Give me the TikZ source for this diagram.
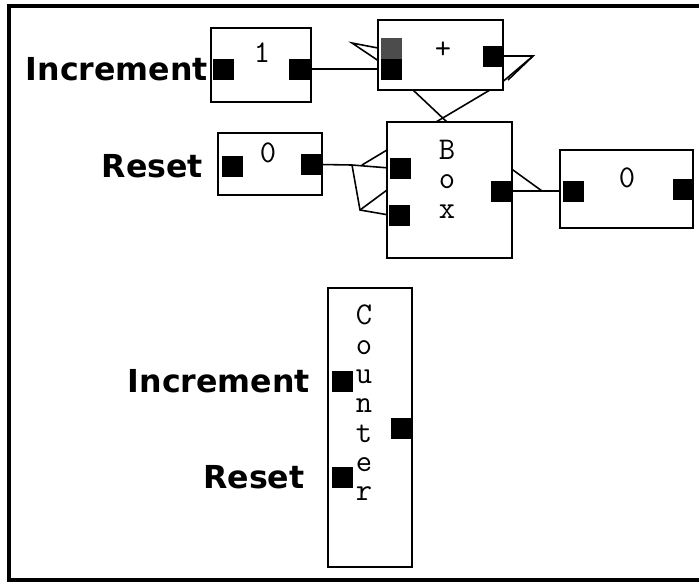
\documentclass[tikz,border=0pt]{standalone}
\usepackage{fontspec}
\usepackage{tikz}
\usetikzlibrary{positioning,backgrounds}
\newfontfamily\lblfont{DejaVu Sans}

\begin{document}
\begin{tikzpicture}[
  x=0.02cm, y=-0.02cm,
  block/.style={rectangle, draw=black, fill=white, line width=1.6pt,
                inner sep=0pt, outer sep=0pt},
  port/.style={rectangle, fill=black, minimum width=0.42cm,
               minimum height=0.42cm, inner sep=0pt, outer sep=0pt},
  dimport/.style={port, fill=black!70},
  boxtext/.style={font=\ttfamily\addfontfeature{FakeBold=1.5}\fontsize{18pt}{16.7pt}\selectfont,
                  inner sep=0pt, align=center},
  pinlabel/.style={font=\lblfont\bfseries\fontsize{18pt}{20pt}\selectfont,
                   inner sep=0pt, outer sep=0pt},
  wire/.style={line width=0.9pt, black}
]
\useasboundingbox (0,0) rectangle (699,583);

% blocks of the upper network
\node[block, minimum width=2.0cm, minimum height=1.48cm] (one) at (261,65) {};
\node[block, minimum width=2.5cm, minimum height=1.4cm] (plus) at (440.5,55) {};
\node[block, minimum width=2.08cm, minimum height=1.24cm] (reset) at (270,164) {};
\node[block, minimum width=2.5cm, minimum height=2.72cm] (boxnode) at (449.5,190) {};
\node[block, minimum width=2.66cm, minimum height=1.56cm] (out) at (626.5,189) {};

\node[boxtext] (oneText) at (262,53) {1};
\node[boxtext] (plusText) at (443,50) {+};
\node[boxtext] (resetText) at (268,153) {0};
\node[boxtext] (boxText) at (447,179) {B\\o\\x};
\node[boxtext] (outText) at (627,178) {0};

% ports
\node[port] (oneL) at (223.5,69) {};
\node[port] (oneR) at (299.5,69) {};
\node[dimport] (plusA) at (391,48.5) {};
\node[port] (plusB) at (391.5,69) {};
\node[port] (plusOut) at (493,56) {};
\node[port] (resetL) at (232.5,166.5) {};
\node[port] (resetR) at (311,164.5) {};
\node[port] (boxIn1) at (400,168) {};
\node[port] (boxIn2) at (399.5,215) {};
\node[port] (boxOut) at (501,191) {};
\node[port] (outIn) at (573.5,191) {};
\node[port] (outOut) at (683,189) {};

\node[pinlabel, left=0.1cm of oneL] (incTop) {Increment};
\node[pinlabel, left=0.38cm of resetL] (rstTop) {Reset};

% the packed block below
\node[block, minimum width=1.68cm, minimum height=5.58cm] (counter) at (370,427.5) {};
\node[boxtext] (counterText) at (364,403) {C\\o\\u\\n\\t\\e\\r};
\node[port] (cntIn1) at (342.5,381) {};
\node[port] (cntIn2) at (342,477) {};
\node[port] (cntOut) at (401,428) {};

\node[pinlabel, left=0.44cm of cntIn1] (incBot) {Increment};
\node[pinlabel, left=0.54cm of cntIn2] (rstBot) {Reset};

% wires go behind the blocks
\coordinate (plusKink) at (352,43);
\coordinate (plusHook) at (533,56);
\coordinate (hookLow) at (500,84);
\coordinate (hookTwin) at (508,80);
\coordinate (boxTopA) at (436,122);
\coordinate (plusLow) at (413,90);
\coordinate (boxTopB) at (447,122);
\coordinate (rstSplit) at (352,165);
\coordinate (rstLow) at (360,210);
\coordinate (rstUp) at (362,165);
\coordinate (boxEdgeA) at (387,150);
\coordinate (boxEdgeB) at (387,190);
\coordinate (boxEdgeC) at (513,170);
\coordinate (outJoin) at (542,191);

\begin{scope}[on background layer]
\draw[line width=0.065cm] (720,6) -- (9,6) -- (9,580) -- (720,580);

\draw[wire] (oneR.east) -- (plusB.west);
\draw[wire] (plusA.west) -- (plusKink) -- ([yshift=-0.08cm]plusB.north west);
\draw[wire] (plusOut.east) -- (plusHook) -- (hookLow) -- (boxTopA) -- (boxIn1.center);
\draw[wire] (plusHook) -- (hookTwin);
\draw[wire] (plusA.center) -- (plusLow) -- (boxTopB) -- (boxOut.center);

\draw[wire] (resetR.east) -- (rstSplit) -- (boxIn1.west);
\draw[wire] (rstSplit) -- (rstLow) -- (boxIn2.west);
\draw[wire] (boxOut.center) -- (boxEdgeA) -- (rstUp);
\draw[wire] (boxOut.center) -- (boxEdgeB) -- (rstLow);

\draw[wire] (boxOut.east) -- (outIn.west);
\draw[wire] (boxnode.center) -- (boxEdgeC) -- (outJoin);
\end{scope}

\end{tikzpicture}
\end{document}
